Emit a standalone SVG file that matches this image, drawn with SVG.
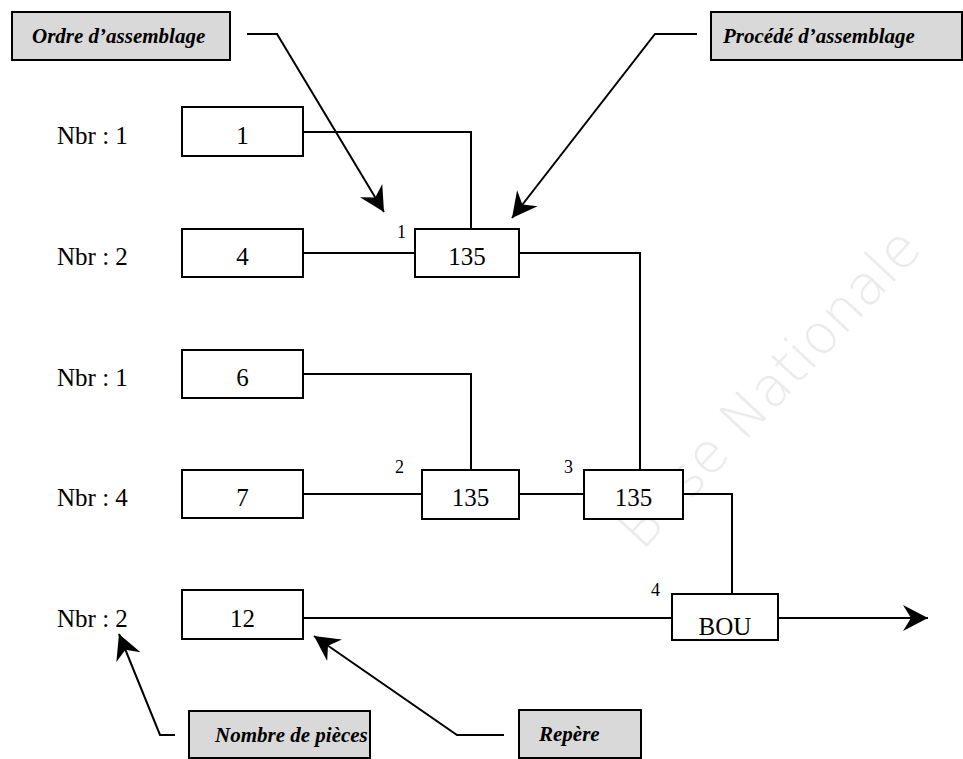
<svg xmlns="http://www.w3.org/2000/svg" width="963" height="759" viewBox="0 0 963 759">
<style>
  .box { fill: #ffffff; stroke: #000; stroke-width: 2; }
  .lbl { fill: #d9d9d9; stroke: #000; stroke-width: 2; }
  .t { font-family: "Liberation Serif", "Times New Roman", serif; font-size: 25px; fill: #000; }
  .mid { text-anchor: middle; }
  .s { font-family: "Liberation Serif", "Times New Roman", serif; font-size: 18px; fill: #000; }
  .bi { font-family: "Liberation Serif", "Times New Roman", serif; font-size: 21px; font-weight: bold; font-style: italic; fill: #000; }
  .ln { fill: none; stroke: #000; stroke-width: 2; }
  .wm { font-family: "DejaVu Sans", "Noto Sans", sans-serif; font-weight: 300; font-size: 55px; fill: #ebebeb; }
</style>
<defs>
  <marker id="arr" markerUnits="userSpaceOnUse" viewBox="-27 -15 29 30" refX="0" refY="0" markerWidth="29" markerHeight="30" orient="auto">
    <path d="M0,0 L-25,-13 L-17,0 L-25,13 Z" fill="#000"/>
  </marker>
</defs>
<rect width="963" height="759" fill="#fff"/>
<text class="wm" x="642" y="552" transform="rotate(-47 642 552)">Base Nationale</text>

<g id="connectors">
  <path class="ln" d="M303,132 H471 V229"/>
  <path class="ln" d="M303,253 H415"/>
  <path class="ln" d="M519,253 H640 V470"/>
  <path class="ln" d="M303,374 H471 V470"/>
  <path class="ln" d="M303,494 H422"/>
  <path class="ln" d="M519,494 H584"/>
  <path class="ln" d="M683,494 H732 V594"/>
  <path class="ln" d="M303,618 H672"/>
  <path class="ln" d="M778,618 H928" marker-end="url(#arr)"/>
  <path class="ln" d="M247,34 H277 L384,212" marker-end="url(#arr)"/>
  <path class="ln" d="M697,34 H655 L512,218" marker-end="url(#arr)"/>
  <path class="ln" d="M175,735 H160 L119,634" marker-end="url(#arr)"/>
  <path class="ln" d="M504,735 H457 L314,636" marker-end="url(#arr)"/>
</g>

<g id="nbr-labels">
  <text class="t" x="57" y="144">Nbr : 1</text>
  <text class="t" x="57" y="265">Nbr : 2</text>
  <text class="t" x="57" y="386">Nbr : 1</text>
  <text class="t" x="57" y="506">Nbr : 4</text>
  <text class="t" x="57" y="627">Nbr : 2</text>
</g>

<g id="piece-1"><rect class="box" x="182" y="107" width="121" height="49"/><text class="t mid" x="242.5" y="144">1</text></g>
<g id="piece-4"><rect class="box" x="182" y="229" width="121" height="48"/><text class="t mid" x="242.5" y="265">4</text></g>
<g id="piece-6"><rect class="box" x="182" y="350" width="121" height="48"/><text class="t mid" x="242.5" y="386">6</text></g>
<g id="piece-7"><rect class="box" x="182" y="470" width="121" height="48"/><text class="t mid" x="242.5" y="506">7</text></g>
<g id="piece-12"><rect class="box" x="182" y="590" width="121" height="49"/><text class="t mid" x="242.5" y="627">12</text></g>

<g id="op-1"><rect class="box" x="415" y="229" width="104" height="48"/><text class="t mid" x="467" y="265">135</text><text class="s" x="397" y="238">1</text></g>
<g id="op-2"><rect class="box" x="422" y="470" width="97" height="49"/><text class="t mid" x="470.5" y="506">135</text><text class="s" x="395" y="473">2</text></g>
<g id="op-3"><rect class="box" x="584" y="470" width="99" height="49"/><text class="t mid" x="633.5" y="506">135</text><text class="s" x="564" y="473">3</text></g>
<g id="op-4"><rect class="box" x="672" y="594" width="106" height="46"/><text class="t mid" x="725" y="635">BOU</text><text class="s" x="651" y="596">4</text></g>

<g id="label-ordre"><rect class="lbl" x="12" y="12" width="218" height="48"/><text class="bi" x="32" y="43">Ordre d’assemblage</text></g>
<g id="label-procede"><rect class="lbl" x="711" y="12" width="251" height="48"/><text class="bi" x="723" y="43">Procédé d’assemblage</text></g>
<g id="label-nombre"><rect class="lbl" x="189" y="711" width="181" height="47"/><text class="bi" x="215" y="742">Nombre de pièces</text></g>
<g id="label-repere"><rect class="lbl" x="519" y="710" width="122" height="48"/><text class="bi" x="539" y="741">Repère</text></g>
</svg>
